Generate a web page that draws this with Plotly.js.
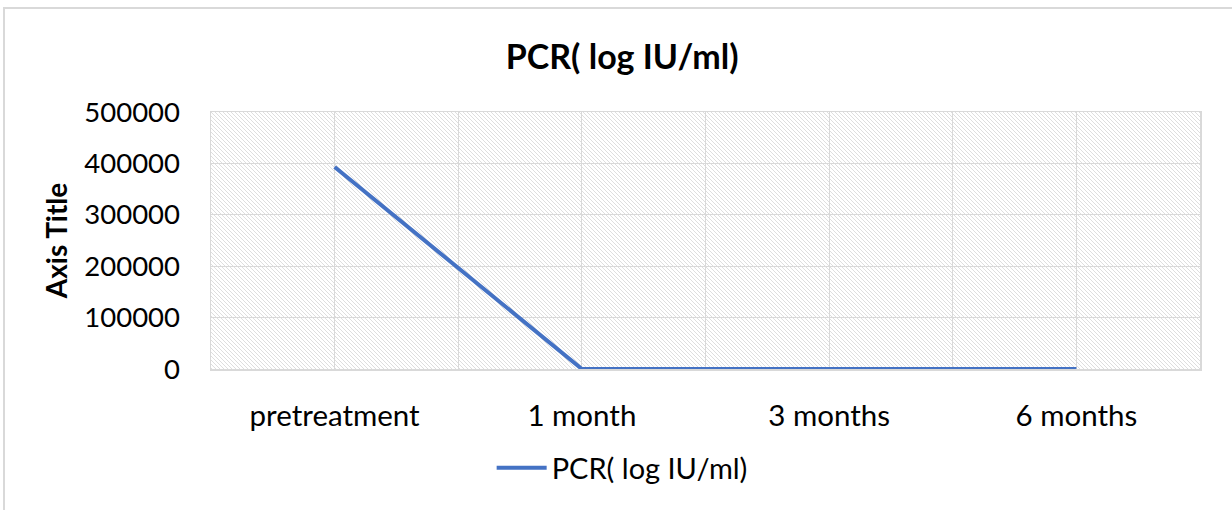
<!DOCTYPE html>
<html>
<head>
<meta charset="utf-8">
<script src="https://cdn.plot.ly/plotly-3.0.1.min.js"></script>
<style>
  html, body { margin: 0; padding: 0; background: #ffffff; }
  #wrap { position: relative; width: 1232px; height: 510px; overflow: hidden; }
  #chart { width: 1232px; height: 510px; }
  #frame { position: absolute; left: 3px; top: 7px; width: 1300px; height: 600px;
           border: 2px solid #d9d9d9; box-sizing: border-box; pointer-events: none; }
</style>
</head>
<body>
<div id="wrap">
  <div id="chart"></div>
  <div id="frame"></div>
</div>
<script>
// ---- data ----
const categories = ["pretreatment", "1 month", "3 months", "6 months"];
const pcrValues = [393000, 0, 0, 0];
const seriesName = "PCR( log IU/ml)";
const chartTitle = "PCR( log IU/ml)";
const yAxisTitle = "Axis Title";
const yTickValues = [0, 100000, 200000, 300000, 400000, 500000];

// ---- build ----
const xIdx = categories.map((c, i) => i);
const gridVals = [];
const gridText = [];
for (let i = 0; i < categories.length; i++) {
  gridVals.push(i - 0.5); gridText.push("");
  gridVals.push(i); gridText.push(categories[i]);
}
gridVals.push(categories.length - 0.5); gridText.push("");

const hatchSvg =
  '<svg xmlns="http://www.w3.org/2000/svg" width="989" height="257">' +
  '<defs><pattern id="h" width="4" height="4" patternUnits="userSpaceOnUse">' +
  '<path d="M-1,-1 L5,5 M-1,3 L1,5 M3,-1 L5,1" stroke="#dedede" stroke-width="1"/>' +
  '</pattern></defs><rect width="100%" height="100%" fill="#ffffff"/>' +
  '<rect width="100%" height="100%" fill="url(#h)"/></svg>';
const hatchUri = "data:image/svg+xml;charset=utf-8," + encodeURIComponent(hatchSvg);

const FONT = "Lato, 'Open Sans', 'Noto Sans', sans-serif";

const trace = {
  x: xIdx,
  y: pcrValues,
  type: "scatter",
  mode: "lines",
  name: seriesName,
  line: { color: "#4472C4", width: 4 },
  showlegend: true,
  hoverinfo: "x+y"
};

const layout = {
  width: 1232,
  height: 510,
  margin: { l: 211, r: 32, t: 112, b: 141 },
  paper_bgcolor: "#ffffff",
  plot_bgcolor: "#ffffff",
  font: { family: FONT, size: 29, color: "#000000" },
  title: {
    text: "<b>" + chartTitle + "</b>",
    font: { family: FONT, size: 34, color: "#000000" },
    x: 0.505, xref: "container", xanchor: "center",
    y: 1 - 57 / 510, yref: "container", yanchor: "middle"
  },
  xaxis: {
    type: "linear",
    range: [-0.5, categories.length - 0.5],
    tickmode: "array",
    tickvals: gridVals,
    ticktext: gridText,
    showgrid: true,
    gridcolor: "#d9d9d9",
    gridwidth: 1,
    zeroline: false,
    showline: true,
    linecolor: "#d9d9d9",
    linewidth: 1.5,
    mirror: true,
    ticks: "",
    ticklabelstandoff: 20,
    tickfont: { family: FONT, size: 29.5, color: "#000000" },
    fixedrange: true
  },
  yaxis: {
    range: [0, 500000],
    tickmode: "array",
    tickvals: yTickValues,
    ticktext: yTickValues.map(v => String(v)),
    showgrid: true,
    gridcolor: "#d9d9d9",
    gridwidth: 1,
    zeroline: false,
    showline: true,
    linecolor: "#d9d9d9",
    linewidth: 1.5,
    mirror: true,
    ticks: "",
    ticklabelstandoff: 24,
    tickfont: { family: FONT, size: 27.5, color: "#000000" },
    title: {
      text: "<b>" + yAxisTitle + "</b>",
      font: { family: FONT, size: 28, color: "#000000" },
      standoff: 8
    },
    fixedrange: true
  },
  legend: {
    orientation: "h",
    x: 0.505, xref: "container", xanchor: "center",
    y: 1 - 468 / 510, yref: "container", yanchor: "middle",
    font: { family: FONT, size: 29, color: "#000000" },
    itemwidth: 50,
    bgcolor: "rgba(0,0,0,0)"
  },
  images: [{
    source: hatchUri,
    xref: "paper", yref: "paper",
    x: 0, y: 1, sizex: 1, sizey: 1,
    xanchor: "left", yanchor: "top",
    sizing: "stretch",
    layer: "below"
  }]
};

Plotly.newPlot("chart", [trace], layout, { displayModeBar: false, staticPlot: true });
</script>
</body>
</html>
